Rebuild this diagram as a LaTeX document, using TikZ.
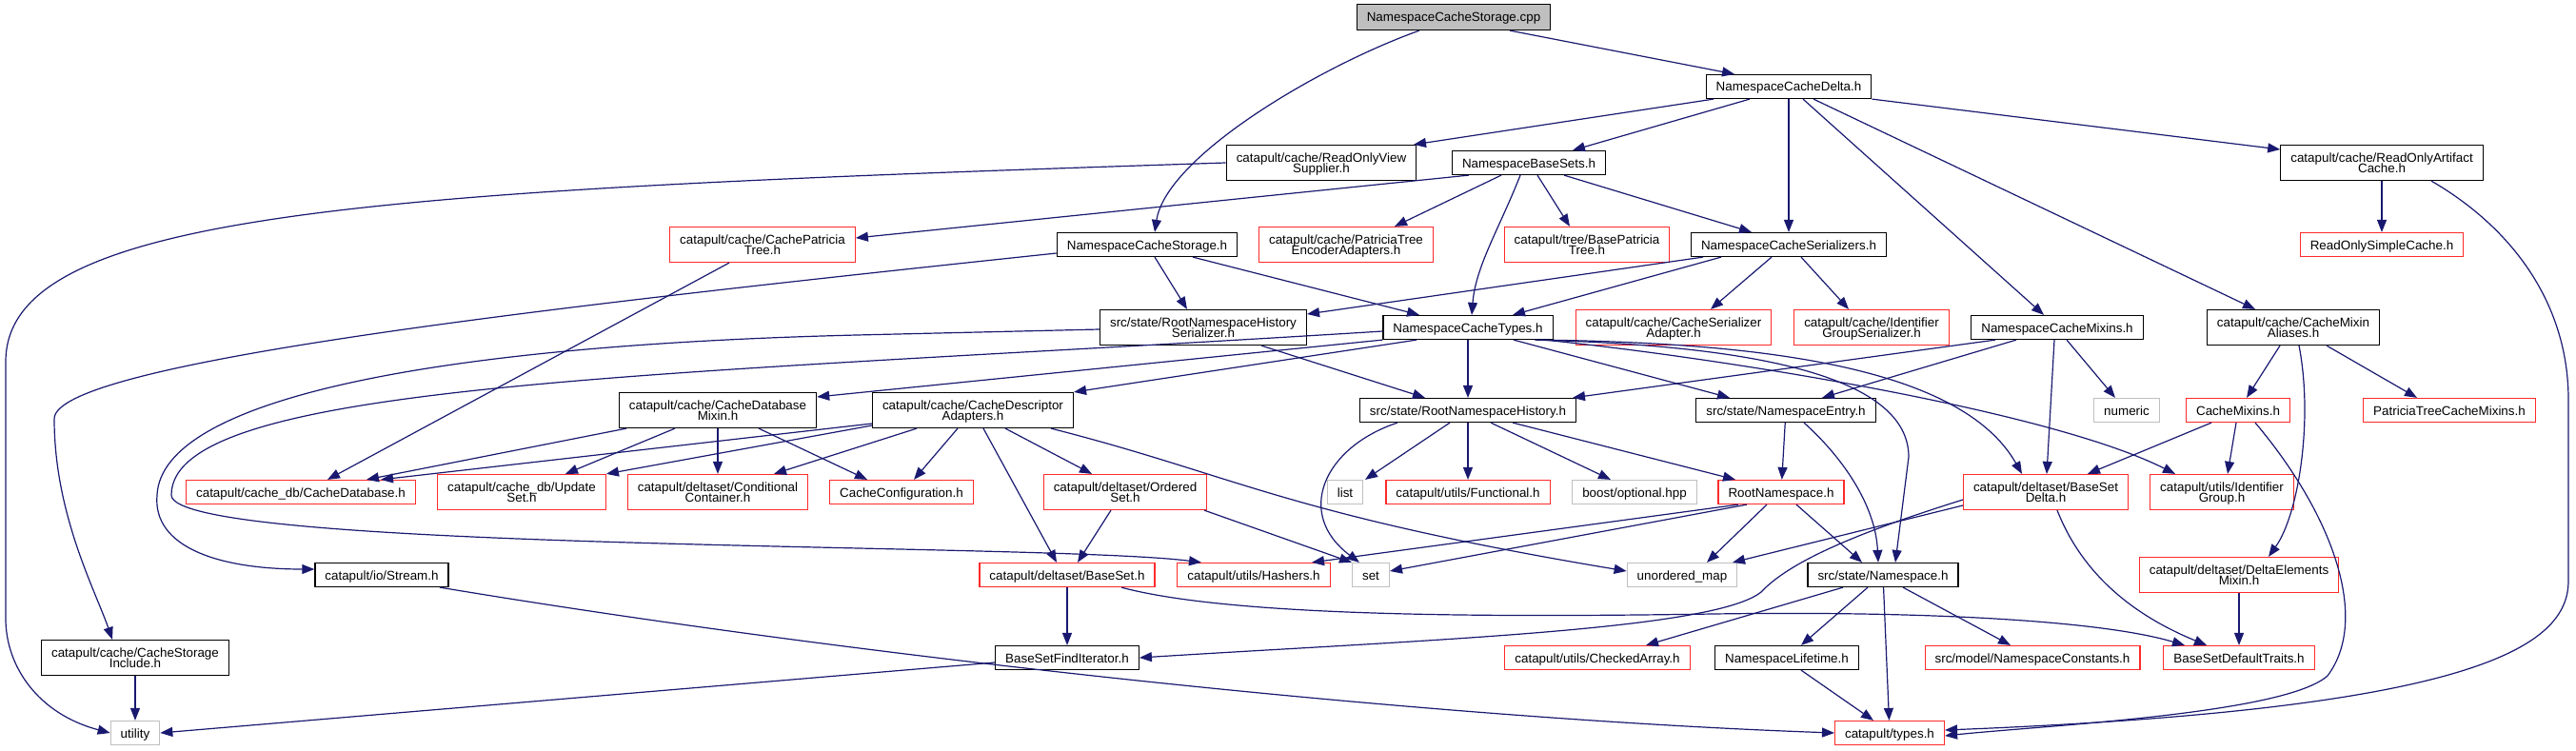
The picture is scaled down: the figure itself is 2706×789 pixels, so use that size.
\documentclass[tikz,border=0pt]{standalone}
\usepackage{fontspec}
\setmainfont{Liberation Sans}
\usetikzlibrary{arrows.meta}
\definecolor{edgeblue}{HTML}{191970}
\definecolor{grey75}{HTML}{BFBFBF}
\definecolor{trunc}{HTML}{FF2A2A}
\newcommand\hdrfont{\fontsize{13.4}{11.5}\selectfont}
\begin{document}
\setlength{\lineskiplimit}{-20pt}
\begin{tikzpicture}[
    x=1pt, y=-1pt,
    every node/.style={font=\hdrfont, inner xsep=10.5pt, inner ysep=0pt, line width=1.2pt},
    hdr/.style={draw=black, fill=white, minimum height=25pt, text height=10pt, text depth=0pt},
    hdrtwo/.style={draw=black, fill=white, minimum height=37pt, align=center, text depth=0pt},
    miss/.style={hdr, draw=trunc},
    misstwo/.style={hdrtwo, draw=trunc},
    sys/.style={hdr, draw=grey75},
    root/.style={hdr, fill=grey75, minimum height=27pt},
    incl/.style={draw=edgeblue, line width=1.2pt, -{Triangle[length=13pt,width=10pt]}}
]
\useasboundingbox (0,0) rectangle (2706,789);

\node[root] (cpp) at (1527,18) {NamespaceCacheStorage.cpp};
\node[hdr] (dlt) at (1879,91) {NamespaceCacheDelta.h};
\node[hdrtwo] (rovs) at (1388,171) {catapult/cache/ReadOnlyView\\Supplier.h};
\node[hdr] (nbs) at (1606,171) {NamespaceBaseSets.h};
\node[hdrtwo] (roac) at (2502,171) {catapult/cache/ReadOnlyArtifact\\Cache.h};
\node[misstwo] (cpt) at (801,257) {catapult/cache/CachePatricia\\Tree.h};
\node[hdr] (ncsh) at (1205,257) {NamespaceCacheStorage.h};
\node[misstwo] (ptea) at (1414,257) {catapult/cache/PatriciaTree\\EncoderAdapters.h};
\node[misstwo] (bpt) at (1667,257) {catapult/tree/BasePatricia\\Tree.h};
\node[hdr] (ncser) at (1879,257) {NamespaceCacheSerializers.h};
\node[miss] (rosc) at (2502,257) {ReadOnlySimpleCache.h};
\node[hdrtwo] (rnhs) at (1264,344) {src/state/RootNamespaceHistory\\Serializer.h};
\node[hdr] (nct) at (1542,344) {NamespaceCacheTypes.h};
\node[misstwo] (csa) at (1758,344) {catapult/cache/CacheSerializer\\Adapter.h};
\node[misstwo] (igs) at (1966,344) {catapult/cache/Identifier\\GroupSerializer.h};
\node[hdr] (ncm) at (2161,344) {NamespaceCacheMixins.h};
\node[hdrtwo] (cma) at (2409,344) {catapult/cache/CacheMixin\\Aliases.h};
\node[hdrtwo] (cdm) at (754,431) {catapult/cache/CacheDatabase\\Mixin.h};
\node[hdrtwo] (cda) at (1022,431) {catapult/cache/CacheDescriptor\\Adapters.h};
\node[hdr] (rnh) at (1542,431) {src/state/RootNamespaceHistory.h};
\node[hdr] (ne) at (1876,431) {src/state/NamespaceEntry.h};
\node[sys] (num) at (2234,431) {numeric};
\node[miss] (cmx) at (2351,431) {CacheMixins.h};
\node[miss] (ptcm) at (2573,431) {PatriciaTreeCacheMixins.h};
\node[miss] (cdb) at (316,517) {catapult/cache\_db/CacheDatabase.h};
\node[misstwo] (us) at (548,517) {catapult/cache\_db/Update\\Set.h};
\node[misstwo] (cc) at (754,517) {catapult/deltaset/Conditional\\Container.h};
\node[miss] (cconf) at (947,517) {CacheConfiguration.h};
\node[misstwo] (os) at (1182,517) {catapult/deltaset/Ordered\\Set.h};
\node[sys] (lst) at (1413,517) {list};
\node[miss] (fn) at (1542,517) {catapult/utils/Functional.h};
\node[sys] (opt) at (1717,517) {boost/optional.hpp};
\node[miss] (rn) at (1871,517) {RootNamespace.h};
\node[misstwo] (bsd) at (2149,517) {catapult/deltaset/BaseSet\\Delta.h};
\node[misstwo] (ig) at (2334,517) {catapult/utils/Identifier\\Group.h};
\node[hdr] (strm) at (401,604) {catapult/io/Stream.h};
\node[miss] (bs) at (1121,604) {catapult/deltaset/BaseSet.h};
\node[miss] (hsh) at (1317,604) {catapult/utils/Hashers.h};
\node[sys] (st) at (1440,604) {set};
\node[sys] (umap) at (1767,604) {unordered\_map};
\node[hdr] (ns) at (1978,604) {src/state/Namespace.h};
\node[misstwo] (dem) at (2352,604) {catapult/deltaset/DeltaElements\\Mixin.h};
\node[hdrtwo] (csi) at (142,691) {catapult/cache/CacheStorage\\Include.h};
\node[hdr] (bsfi) at (1121,691) {BaseSetFindIterator.h};
\node[miss] (chk) at (1678,691) {catapult/utils/CheckedArray.h};
\node[hdr] (nl) at (1877,691) {NamespaceLifetime.h};
\node[miss] (nsc) at (2135,691) {src/model/NamespaceConstants.h};
\node[miss] (bsdt) at (2352,691) {BaseSetDefaultTraits.h};
\node[sys] (util) at (142,770) {utility};
\node[miss] (typ) at (1985,770) {catapult/types.h};

\draw[incl] ([xshift=-36]cpp.south) .. controls (1385,70) and (1225,165) .. ([xshift=8]ncsh.north);
\draw[incl] ([xshift=59]cpp.south) -- ([xshift=-57]dlt.north);
\draw[incl] ([xshift=-79]dlt.south) -- ([xshift=97]rovs.north);
\draw[incl] ([xshift=-41]dlt.south) -- ([xshift=46]nbs.north);
\draw[incl] (dlt) -- (ncser);
\draw[incl] ([xshift=15]dlt.south) -- ([xshift=-14]ncm.north);
\draw[incl] ([xshift=26]dlt.south) -- ([xshift=-40]cma.north);
\draw[incl] (dlt.south east) -- ([yshift=14]roac.west);
\draw[incl] (rovs.west) .. controls (400,200) and (6,220) .. (6,380) -- (6,650) .. controls (6,700) and (40,750) .. (util.west);
\draw[incl] ([xshift=-63]nbs.south) -- ([yshift=7]cpt.east);
\draw[incl] ([xshift=-29]nbs.south) -- ([xshift=51]ptea.north);
\draw[incl] ([xshift=9]nbs.south) -- ([xshift=-18]bpt.north);
\draw[incl] ([xshift=-9]nbs.south) .. controls (1575,240) and (1550,280) .. ([xshift=4]nct.north);
\draw[incl] ([xshift=37]nbs.south) -- ([xshift=-39]ncser.north);
\draw[incl] (roac) -- (rosc);
\draw[incl] ([xshift=52]roac.south) .. controls (2640,240) and (2698,320) .. (2698,420) -- (2698,610) .. controls (2698,680) and (2600,745) .. ([yshift=3]typ.east);
\draw[incl] ([xshift=-35]cpt.south) -- ([xshift=28]cdb.north);
\draw[incl] ([yshift=-9]ncsh.west) .. controls (600,320) and (57,380) .. (57,440) .. controls (57,540) and (100,620) .. ([xshift=-24]csi.north);
\draw[incl] ([xshift=8]ncsh.south) -- ([xshift=-17]rnhs.north);
\draw[incl] ([xshift=48]ncsh.south) -- ([xshift=-51]nct.north);
\draw[incl] ([xshift=-90]ncser.south) -- ([yshift=14]rnhs.east);
\draw[incl] ([xshift=-71]ncser.south) -- ([xshift=47]nct.north);
\draw[incl] ([xshift=-18]ncser.south) -- ([xshift=39]csa.north);
\draw[incl] ([xshift=13]ncser.south) -- ([xshift=-24]igs.north);
\draw[incl] ([yshift=-2]rnhs.west) -- (900,352) .. controls (450,363) and (170,420) .. (165,520) .. controls (160,575) and (230,598) .. ([yshift=6]strm.west);
\draw[incl] ([xshift=61]rnhs.south) -- ([xshift=-45]rnh.north);
\draw[incl] (nct.south west) -- ([yshift=14]cdm.east);
\draw[incl] ([xshift=-54]nct.south) -- (cda.north east);
\draw[incl] ([yshift=-4]nct.west) .. controls (700,395) and (180,400) .. (180,520) .. controls (180,580) and (1100,570) .. ([xshift=-55]hsh.north);
\draw[incl] (nct) -- (rnh);
\draw[incl] ([xshift=48]nct.south) -- ([xshift=-59]ne.north);
\draw[incl] ([xshift=70]nct.south) .. controls (1800,362) and (2005,385) .. (2005,480) -- ([xshift=13]ns.north);
\draw[incl] ([xshift=75]nct.south) .. controls (1850,360) and (2060,385) .. ([xshift=-25]bsd.north);
\draw[incl] ([xshift=80]nct.south) .. controls (1800,375) and (2150,430) .. ([xshift=-49]ig.north);
\draw[incl] ([xshift=-74]rnh.south) .. controls (1390,470) and (1360,540) .. ([xshift=-12]st.north);
\draw[incl] ([xshift=-19]rnh.south) -- ([xshift=21]lst.north);
\draw[incl] (rnh) -- (fn);
\draw[incl] ([xshift=24]rnh.south) -- ([xshift=-25]opt.north);
\draw[incl] ([xshift=47]rnh.south) -- ([xshift=-48]rn.north);
\draw[incl] (ne) -- (rn);
\draw[incl] ([xshift=19]ne.south) .. controls (1935,480) and (1970,530) .. ([xshift=-5]ns.north);
\draw[incl] ([xshift=-65]ncm.south) -- ([xshift=110]rnh.north);
\draw[incl] ([xshift=-43]ncm.south) -- ([xshift=38]ne.north);
\draw[incl] ([xshift=-3]ncm.south) -- ([xshift=1]bsd.north);
\draw[incl] ([xshift=10]ncm.south) -- ([xshift=-12]num.north);
\draw[incl] ([xshift=-14]cma.south) -- ([xshift=9]cmx.north);
\draw[incl] ([xshift=6]cma.south) .. controls (2430,440) and (2415,540) .. ([xshift=31]dem.north);
\draw[incl] ([xshift=35]cma.south) -- ([xshift=-34]ptcm.north);
\draw[incl] ([xshift=-28]cmx.south) -- ([xshift=44]bsd.north);
\draw[incl] ([xshift=-2]cmx.south) -- ([xshift=6]ig.north);
\draw[incl] ([xshift=18]cmx.south) .. controls (2450,540) and (2490,650) .. (2445,710) .. controls (2400,750) and (2150,762) .. ([yshift=-3]typ.east);
\draw[incl] ([yshift=-14]bsd.west) -- ([xshift=53]umap.north);
\draw[incl] ([yshift=-8]bsd.west) .. controls (1950,560) and (1880,590) .. (1850,622) .. controls (1800,662) and (1500,672) .. (bsfi.east);
\draw[incl] ([xshift=12]bsd.south) .. controls (2190,610) and (2250,650) .. ([xshift=-34]bsdt.north);
\draw[incl] ([xshift=-45]rn.south) -- ([xshift=61]hsh.north);
\draw[incl] ([xshift=-36]rn.south) -- ([yshift=4]st.east);
\draw[incl] ([xshift=-15]rn.south) -- ([xshift=26]umap.north);
\draw[incl] ([xshift=16]rn.south) -- ([xshift=-22]ns.north);
\draw[incl] ([xshift=61]strm.south) .. controls (900,690) and (1500,755) .. (typ.west);
\draw[incl] (csi) -- (util);
\draw[incl] ([yshift=-5]bsfi.west) -- (util.east);
\draw[incl] ([yshift=-14]cda.west) -- ([xshift=84]cdb.north);
\draw[incl] ([xshift=-96]cdm.south) -- ([xshift=69]cdb.north);
\draw[incl] ([yshift=-16]cda.west) -- (us.north east);
\draw[incl] ([xshift=-59]cda.south) -- ([xshift=59]cc.north);
\draw[incl] ([xshift=-16]cda.south) -- ([xshift=13]cconf.north);
\draw[incl] ([xshift=11]cda.south) -- ([xshift=-11]bs.north);
\draw[incl] ([xshift=34]cda.south) -- ([xshift=-35]os.north);
\draw[incl] ([xshift=82]cda.south) .. controls (1300,500) and (1350,540) .. ([yshift=4]umap.west);
\draw[incl] ([xshift=-45]cdm.south) -- ([xshift=46]us.north);
\draw[incl] (cdm) -- (cc);
\draw[incl] ([xshift=43]cdm.south) -- ([xshift=-36]cconf.north);
\draw[incl] ([xshift=-15]os.south) -- ([xshift=11]bs.north);
\draw[incl] ([xshift=83]os.south) -- (st.north west);
\draw[incl] (bs) -- (bsfi);
\draw[incl] ([xshift=57]bs.south) .. controls (1300,650) and (1600,648) .. (1800,645) .. controls (2000,642) and (2200,650) .. ([xshift=-57]bsdt.north);
\draw[incl] ([xshift=-42]ns.south) -- ([xshift=51]chk.north);
\draw[incl] ([xshift=-16]ns.south) -- ([xshift=15]nl.north);
\draw[incl] (ns) -- (typ);
\draw[incl] ([xshift=21]ns.south) -- ([xshift=-23]nsc.north);
\draw[incl] ([xshift=15]nl.south) -- ([xshift=-17]typ.north);
\draw[incl] (dem) -- (bsdt);
\end{tikzpicture}
\end{document}
